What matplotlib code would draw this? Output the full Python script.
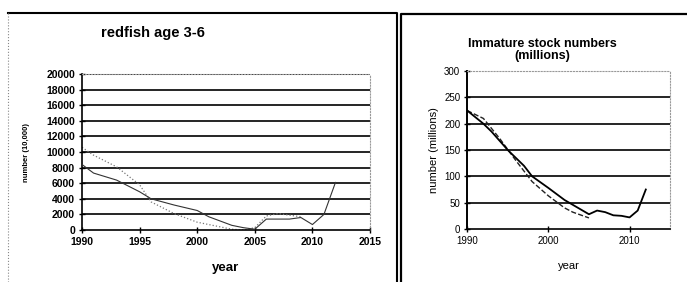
import matplotlib.pyplot as plt
from matplotlib.lines import Line2D

plt.rcParams['font.family'] = ['Liberation Sans', 'DejaVu Sans']

# left panel: redfish age 3-6 (number, 10,000)
red_years = [1990, 1991, 1993, 1995, 1996, 1998, 2000, 2001, 2003, 2004, 2005,
             2006, 2008, 2009, 2010, 2011, 2012]
red_solid = [8400, 7300, 6400, 4900, 4000, 3200, 2500, 1700, 600, 300, 100,
             1400, 1400, 1600, 700, 2000, 6100]
red_dot_years = [1990, 1991, 1993, 1995, 1996, 1998, 2000, 2002, 2003, 2004,
                 2005, 2006, 2007, 2008, 2009]
red_dot = [10600, 9600, 8100, 5800, 3600, 2100, 1000, 400, 100, 0,
           300, 1800, 2100, 1900, 1700]

# right panel: immature stock numbers (millions)
imm_years = [1990, 1992, 1993, 1995, 1997, 1998, 2000, 2002, 2004, 2005,
             2006, 2007, 2008, 2009, 2010, 2011, 2012]
imm_solid = [225, 200, 185, 150, 120, 100, 78, 55, 37, 28,
             35, 32, 26, 25, 22, 35, 75]
imm_dash_years = [1990, 1992, 1994, 1996, 1998, 2000, 2002, 2003, 2005]
imm_dash = [225, 210, 172, 130, 90, 63, 40, 32, 21]

fig = plt.figure(figsize=(6.87, 2.82), dpi=100)

# panel frames
fig.add_artist(Line2D([8/687, 397/687, 397/687], [1 - 13/282, 1 - 13/282, 0],
                      transform=fig.transFigure, color='black', lw=1.5))
fig.add_artist(Line2D([8/687, 8/687], [1 - 13/282, 0],
                      transform=fig.transFigure, color='#888888', lw=0.8, ls=':'))
fig.add_artist(Line2D([401/687, 401/687, 687/687], [0, 1 - 14/282, 1 - 14/282],
                      transform=fig.transFigure, color='black', lw=1.6))

# ---- left chart ----
ax1 = fig.add_axes([0.1194, 0.1844, 0.4192, 0.553])
for y in range(2000, 20001, 2000):
    ax1.axhline(y, color='black', lw=1.2, zorder=1)
ax1.plot(red_dot_years, red_dot, color='#777777', lw=0.9, ls=':', zorder=2)
ax1.plot(red_years, red_solid, color='#333333', lw=0.8, zorder=3)
ax1.set_xlim(1990, 2015)
ax1.set_ylim(0, 20000)
ax1.set_xticks(range(1990, 2016, 5))
ax1.set_yticks(range(0, 20001, 2000))
ax1.tick_params(labelsize=7.5, length=4, direction='inout', width=1, pad=3)
for lab in ax1.get_xticklabels() + ax1.get_yticklabels():
    lab.set_fontweight('bold')
ax1.spines['left'].set_linewidth(1.2)
ax1.spines['bottom'].set_linewidth(1.2)
for s in ['top', 'right']:
    ax1.spines[s].set_color('#999999')
    ax1.spines[s].set_linestyle(':')
    ax1.spines[s].set_linewidth(0.8)
ax1.set_xlabel('year', fontsize=9.5, fontweight='bold', labelpad=11)
ax1.set_ylabel('number (10,000)', fontsize=5.5, fontweight='bold', labelpad=12)
fig.text(153/687, 1 - 33/282, 'redfish age 3-6', fontsize=10.5, fontweight='bold',
         ha='center', va='center')

# ---- right chart ----
ax2 = fig.add_axes([0.680, 0.188, 0.2955, 0.560])
for y in range(50, 251, 50):
    ax2.axhline(y, color='black', lw=1.2, zorder=1)
ax2.plot(imm_dash_years, imm_dash, color='#222222', lw=1.0, ls='--', zorder=2)
ax2.plot(imm_years, imm_solid, color='black', lw=1.3, zorder=3)
ax2.set_xlim(1990, 2015)
ax2.set_ylim(0, 300)
ax2.set_xticks([1990, 2000, 2010])
ax2.set_yticks(range(0, 301, 50))
ax2.tick_params(labelsize=7, length=4, direction='inout', width=1, pad=3)
ax2.spines['left'].set_linewidth(1.4)
ax2.spines['bottom'].set_linewidth(1.2)
for s in ['top', 'right']:
    ax2.spines[s].set_color('#999999')
    ax2.spines[s].set_linestyle(':')
    ax2.spines[s].set_linewidth(0.8)
ax2.set_xlabel('year', fontsize=8, labelpad=11)
ax2.set_ylabel('number (millions)', fontsize=8, labelpad=4)
fig.text(542/687, 1 - 50/282, 'Immature stock numbers\n(millions)', fontsize=9,
         fontweight='bold', ha='center', va='center', linespacing=1.0)

fig.savefig('out.png', dpi=100)
